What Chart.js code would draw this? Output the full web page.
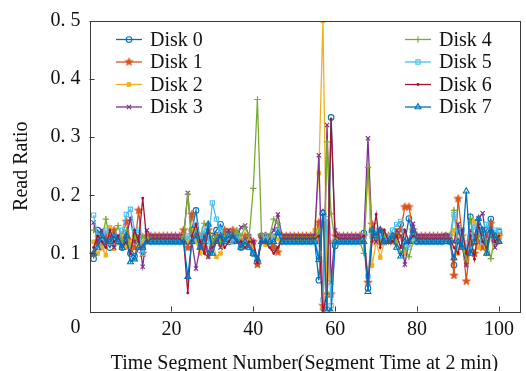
<!DOCTYPE html>
<html>
<head>
<meta charset="utf-8">
<script src="https://cdn.jsdelivr.net/npm/chart.js@4/dist/chart.umd.min.js"></script>
<style>
html,body{margin:0;padding:0;background:#fff;}
#wrap{width:526px;height:371px;position:relative;}
</style>
</head>
<body>
<div id="wrap"><canvas id="c" width="526" height="371"></canvas></div>
<script>
// ---- data ----
const segments = Array.from({length: 100}, (_, i) => i + 1);
const seriesNames = ['Disk 0','Disk 1','Disk 2','Disk 3','Disk 4','Disk 5','Disk 6','Disk 7'];
const xTicks = [20, 40, 60, 80, 100];
const yTicks = [0.1, 0.2, 0.3, 0.4, 0.5];

const disk0 = [
 0.091,0.14,0.13,0.12,0.11,0.13,0.12,0.11,0.12,0.10,
 0.095,0.12,0.11,0.125,0.12,0.12,0.12,0.12,0.12,0.12,
 0.12,0.12,0.12,0.12,0.14,0.174,0.12,0.13,0.10,0.13,
 0.14,0.150,0.13,0.12,0.13,0.135,0.11,0.12,0.115,0.10,
 0.085,0.13,0.13,0.12,0.11,0.14,0.12,0.12,0.12,0.12,
 0.12,0.12,0.12,0.12,0.12,0.054,0.17,0.003,0.334,0.113,
 0.12,0.12,0.12,0.12,0.12,0.12,0.135,0.04,0.14,0.13,
 0.13,0.12,0.125,0.13,0.13,0.15,0.12,0.160,0.13,0.12,
 0.12,0.12,0.12,0.12,0.12,0.12,0.13,0.12,0.08,0.14,
 0.12,0.10,0.163,0.12,0.14,0.13,0.14,0.159,0.12,0.137];
const disk1 = [
 0.10,0.12,0.11,0.13,0.12,0.14,0.12,0.13,0.155,0.12,
 0.11,0.174,0.10,0.13,0.13,0.13,0.13,0.13,0.13,0.13,
 0.13,0.13,0.14,0.11,0.167,0.13,0.12,0.11,0.14,0.12,
 0.13,0.12,0.14,0.13,0.14,0.13,0.12,0.13,0.12,0.12,
 0.081,0.13,0.13,0.125,0.11,0.102,0.13,0.13,0.13,0.13,
 0.13,0.13,0.13,0.13,0.13,0.153,0.01,0.03,0.03,0.13,
 0.13,0.13,0.13,0.13,0.13,0.13,0.13,0.05,0.15,0.12,
 0.14,0.12,0.13,0.12,0.13,0.14,0.18,0.18,0.14,0.13,
 0.13,0.13,0.13,0.13,0.13,0.13,0.13,0.13,0.062,0.194,
 0.13,0.052,0.12,0.10,0.12,0.11,0.13,0.151,0.12,0.13];
const disk2 = [
 0.12,0.10,0.11,0.097,0.145,0.108,0.12,0.13,0.11,0.12,
 0.13,0.11,0.12,0.125,0.125,0.125,0.125,0.125,0.125,0.125,
 0.125,0.125,0.13,0.12,0.14,0.12,0.10,0.13,0.095,0.12,
 0.094,0.10,0.12,0.13,0.12,0.125,0.11,0.12,0.12,0.11,
 0.09,0.12,0.115,0.12,0.13,0.125,0.125,0.125,0.125,0.125,
 0.125,0.125,0.125,0.125,0.14,0.238,0.5,0.03,0.12,0.125,
 0.125,0.125,0.125,0.125,0.125,0.125,0.12,0.245,0.079,0.12,
 0.093,0.12,0.13,0.12,0.14,0.13,0.10,0.12,0.13,0.125,
 0.125,0.125,0.125,0.125,0.125,0.125,0.125,0.125,0.14,0.10,
 0.13,0.09,0.12,0.155,0.11,0.12,0.10,0.13,0.12,0.13];
const disk3 = [
 0.153,0.12,0.14,0.12,0.13,0.11,0.13,0.12,0.13,0.16,
 0.12,0.13,0.077,0.14,0.13,0.13,0.13,0.13,0.13,0.13,
 0.13,0.13,0.13,0.204,0.12,0.074,0.11,0.13,0.094,0.12,
 0.13,0.11,0.13,0.14,0.12,0.13,0.145,0.148,0.13,0.12,
 0.085,0.13,0.13,0.13,0.14,0.167,0.13,0.13,0.13,0.13,
 0.13,0.13,0.13,0.13,0.13,0.269,0.0,0.321,0.05,0.14,
 0.13,0.13,0.13,0.13,0.13,0.13,0.13,0.298,0.13,0.12,
 0.14,0.12,0.13,0.12,0.14,0.13,0.081,0.12,0.151,0.13,
 0.13,0.13,0.13,0.13,0.13,0.13,0.13,0.13,0.12,0.15,
 0.11,0.08,0.14,0.13,0.16,0.169,0.12,0.13,0.11,0.12];
const disk4 = [
 0.14,0.13,0.12,0.159,0.12,0.13,0.148,0.12,0.14,0.11,
 0.13,0.12,0.13,0.12,0.125,0.125,0.125,0.125,0.125,0.125,
 0.125,0.125,0.13,0.202,0.12,0.14,0.13,0.152,0.15,0.12,
 0.13,0.12,0.13,0.12,0.13,0.14,0.13,0.145,0.13,0.212,
 0.365,0.133,0.12,0.13,0.159,0.152,0.125,0.125,0.125,0.125,
 0.125,0.125,0.125,0.125,0.125,0.14,0.003,0.292,0.168,0.12,
 0.125,0.125,0.125,0.125,0.125,0.12,0.10,0.248,0.14,0.13,
 0.12,0.13,0.12,0.13,0.12,0.10,0.11,0.094,0.12,0.125,
 0.125,0.125,0.125,0.125,0.125,0.125,0.125,0.125,0.174,0.12,
 0.11,0.09,0.16,0.12,0.13,0.14,0.12,0.091,0.13,0.12];
const disk5 = [
 0.166,0.13,0.12,0.14,0.12,0.13,0.12,0.14,0.167,0.176,
 0.14,0.14,0.10,0.12,0.12,0.12,0.12,0.12,0.12,0.12,
 0.12,0.12,0.12,0.13,0.12,0.15,0.13,0.14,0.12,0.187,
 0.159,0.14,0.12,0.13,0.12,0.13,0.11,0.12,0.11,0.10,
 0.09,0.12,0.13,0.12,0.13,0.14,0.12,0.12,0.12,0.12,
 0.12,0.12,0.12,0.12,0.12,0.10,0.02,0.16,0.01,0.12,
 0.12,0.12,0.12,0.12,0.12,0.12,0.13,0.06,0.13,0.14,
 0.13,0.12,0.13,0.14,0.15,0.155,0.12,0.11,0.13,0.12,
 0.12,0.12,0.12,0.12,0.12,0.12,0.12,0.12,0.167,0.12,
 0.14,0.11,0.13,0.145,0.14,0.12,0.15,0.13,0.14,0.14];
const disk6 = [
 0.11,0.13,0.12,0.11,0.14,0.12,0.13,0.11,0.12,0.10,
 0.14,0.12,0.195,0.12,0.125,0.125,0.125,0.125,0.125,0.125,
 0.125,0.125,0.12,0.032,0.13,0.15,0.12,0.10,0.14,0.11,
 0.12,0.13,0.11,0.12,0.13,0.12,0.12,0.11,0.12,0.12,
 0.085,0.12,0.12,0.11,0.10,0.11,0.125,0.125,0.125,0.125,
 0.125,0.125,0.125,0.125,0.125,0.13,0.0,0.03,0.331,0.13,
 0.125,0.125,0.125,0.125,0.125,0.125,0.13,0.051,0.12,0.167,
 0.11,0.14,0.12,0.12,0.13,0.11,0.14,0.12,0.13,0.125,
 0.125,0.125,0.125,0.125,0.125,0.125,0.125,0.125,0.11,0.10,
 0.14,0.10,0.13,0.09,0.15,0.12,0.11,0.14,0.12,0.13];
const disk7 = [
 0.10,0.11,0.13,0.12,0.12,0.13,0.12,0.11,0.13,0.085,
 0.09,0.11,0.11,0.12,0.12,0.12,0.12,0.12,0.12,0.12,
 0.12,0.12,0.12,0.06,0.12,0.13,0.11,0.12,0.15,0.10,
 0.12,0.13,0.12,0.13,0.13,0.12,0.11,0.12,0.11,0.10,
 0.09,0.12,0.12,0.12,0.12,0.135,0.12,0.12,0.12,0.12,
 0.12,0.12,0.12,0.12,0.12,0.089,0.17,0.0,0.0,0.12,
 0.12,0.12,0.12,0.12,0.12,0.12,0.12,0.034,0.14,0.13,
 0.14,0.12,0.12,0.13,0.11,0.095,0.12,0.12,0.14,0.12,
 0.12,0.12,0.12,0.12,0.12,0.12,0.12,0.12,0.092,0.12,
 0.11,0.207,0.10,0.12,0.16,0.14,0.10,0.14,0.13,0.12];
const seriesValues = [disk0, disk1, disk2, disk3, disk4, disk5, disk6, disk7];

// ---- styles ----
const colors = ['#0072BD','#D95319','#EDB120','#7E2F8E','#77AC30','#4DBEEE','#A2142F','#0072BD'];
function makePentagram(color, r) {
  const s = Math.ceil(r * 2 + 2);
  const cv = document.createElement('canvas');
  cv.width = s; cv.height = s;
  const g = cv.getContext('2d');
  g.beginPath();
  for (let k = 0; k < 10; k++) {
    const rr = (k % 2 === 0) ? r : r * 0.42;
    const a = -Math.PI / 2 + k * Math.PI / 5;
    const px = s / 2 + rr * Math.cos(a), py = s / 2 + rr * Math.sin(a);
    if (k === 0) g.moveTo(px, py); else g.lineTo(px, py);
  }
  g.closePath();
  g.fillStyle = color; g.fill();
  g.strokeStyle = color; g.lineWidth = 0.8; g.stroke();
  return cv;
}
const markerDefs = [
  {style: 'circle', radius: 2.8, fill: false},
  {style: makePentagram(colors[1], 4.2), radius: 4, fill: true},
  {style: 'rect', radius: 2.4, fill: true},
  {style: 'crossRot', radius: 3, fill: false},
  {style: 'cross', radius: 3.2, fill: false},
  {style: 'rect', radius: 3, fill: false},
  {style: 'circle', radius: 0.9, fill: true},
  {style: 'triangle', radius: 3.4, fill: false}
];

const datasets = seriesNames.map((name, i) => ({
  label: name,
  data: seriesValues[i].map((v, k) => ({x: segments[k], y: v})),
  borderColor: colors[i],
  backgroundColor: markerDefs[i].fill ? colors[i] : 'rgba(255,255,255,0)',
  borderWidth: 1.3,
  pointStyle: markerDefs[i].style,
  pointRadius: markerDefs[i].radius,
  pointBorderWidth: 1.1,
  pointBorderColor: colors[i],
  pointBackgroundColor: markerDefs[i].fill ? colors[i] : 'rgba(255,255,255,0)',
  tension: 0,
  order: 7 - i
}));

const FONT = '"Liberation Serif", "Times New Roman", serif';

const framePlugin = {
  id: 'frame',
  afterDatasetsDraw(chart) {
    const {ctx, chartArea: a, scales: {x, y}} = chart;
    ctx.save();
    ctx.strokeStyle = '#3a3a3a';
    ctx.lineWidth = 1;
    ctx.beginPath();
    xTicks.forEach(v => { const px = Math.round(x.getPixelForValue(v)) + 0.5; ctx.moveTo(px, a.bottom); ctx.lineTo(px, a.bottom - 5); });
    yTicks.forEach(v => { const py = Math.round(y.getPixelForValue(v)) + 0.5; ctx.moveTo(a.left, py); ctx.lineTo(a.left + 5, py); });
    ctx.stroke();
    ctx.strokeRect(Math.round(a.left) + 0.5, Math.round(a.top) + 0.5, Math.round(a.right - a.left), Math.round(a.bottom - a.top));
    // y "0" label, placed on the x-label line as in the original
    ctx.fillStyle = '#111';
    ctx.font = '20px ' + FONT;
    ctx.textAlign = 'right';
    ctx.textBaseline = 'middle';
    ctx.fillText('0', a.left - 9, a.bottom + 16);
    // legend
    const rowY = [39.5, 62, 84.5, 107];
    const cols = [{x0: a.left + 26.5, n: [0,1,2,3]}, {x0: a.left + 315.5, n: [4,5,6,7]}];
    ctx.textAlign = 'left';
    cols.forEach(col => {
      col.n.forEach((di, r) => {
        const yy = rowY[r];
        const md = markerDefs[di];
        ctx.strokeStyle = colors[di];
        ctx.lineWidth = 1.3;
        ctx.beginPath(); ctx.moveTo(col.x0, yy); ctx.lineTo(col.x0 + 26, yy); ctx.stroke();
        ctx.fillStyle = md.fill ? colors[di] : 'rgba(255,255,255,0)';
        ctx.strokeStyle = colors[di];
        ctx.lineWidth = 1.1;
        Chart.helpers.drawPoint(ctx, {
          pointStyle: md.style, radius: md.radius, borderWidth: 1.1, rotation: 0
        }, col.x0 + 13, yy);
        ctx.fillStyle = '#111';
        ctx.fillText(seriesNames[di], col.x0 + 34, yy + 1);
      });
    });
    ctx.restore();
  }
};

new Chart(document.getElementById('c'), {
  type: 'line',
  data: {datasets},
  options: {
    responsive: false,
    animation: false,
    devicePixelRatio: 1,
    layout: {padding: {left: 0, top: 16, right: 6.5, bottom: 0}},
    plugins: {legend: {display: false}, tooltip: {enabled: false}},
    scales: {
      x: {
        type: 'linear', min: 0, max: 105,
        afterFit(s) { s.height = 59.5; },
        afterBuildTicks(s) { s.ticks = xTicks.map(v => ({value: v})); },
        grid: {display: false, drawTicks: false},
        border: {display: false},
        ticks: {color: '#111', font: {family: FONT, size: 20}, padding: 6, maxRotation: 0, autoSkip: false,
                callback: v => String(v)},
        title: {display: true, text: 'Time Segment Number(Segment Time at 2 min)', color: '#111',
                font: {family: FONT, size: 20, lineHeight: 1}, padding: {top: 0, bottom: -3}}
      },
      y: {
        type: 'linear', min: 0, max: 0.5,
        afterFit(s) { s.width = 89.5; },
        afterBuildTicks(s) { s.ticks = yTicks.map(v => ({value: v})); },
        grid: {display: false, drawTicks: false},
        border: {display: false},
        ticks: {color: '#111', font: {family: FONT, size: 20}, padding: 9,
                callback: v => v.toFixed(1).replace('.', '. ')},
        title: {display: true, text: 'Read Ratio', color: '#111',
                font: {family: FONT, size: 20, lineHeight: 1}, padding: {top: 12, bottom: 0}}
      }
    }
  },
  plugins: [framePlugin]
});
</script>
</body>
</html>
